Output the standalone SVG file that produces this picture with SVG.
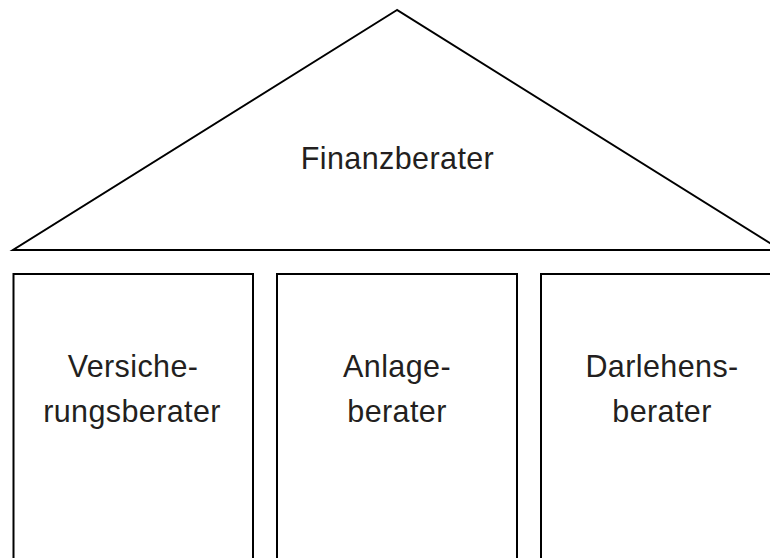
<svg xmlns="http://www.w3.org/2000/svg" width="770" height="558" viewBox="0 0 770 558">
<style>
.s{fill:none;stroke:#000;stroke-width:2}
.t{font-family:"Liberation Sans",Arial,sans-serif;font-size:30.5px;letter-spacing:0.4px;fill:#231f20;text-anchor:middle}
</style>
<rect width="770" height="558" fill="#fff"/>
<g id="roof">
<polygon class="s" points="397,10 13,250 781,250"/>
<text class="t" x="397.5" y="168.5">Finanzberater</text>
</g>
<g id="pillar1">
<rect class="s" x="13.5" y="274" width="239.5" height="300"/>
<text class="t" x="133" y="377">Versiche-</text>
<text class="t" x="132" y="422">rungsberater</text>
</g>
<g id="pillar2">
<rect class="s" x="277" y="274" width="240" height="300"/>
<text class="t" x="397" y="377">Anlage-</text>
<text class="t" x="397" y="422">berater</text>
</g>
<g id="pillar3">
<rect class="s" x="541" y="274" width="240" height="300"/>
<text class="t" x="662" y="377">Darlehens-</text>
<text class="t" x="662" y="422">berater</text>
</g>
<g id="connectors"/>
</svg>
